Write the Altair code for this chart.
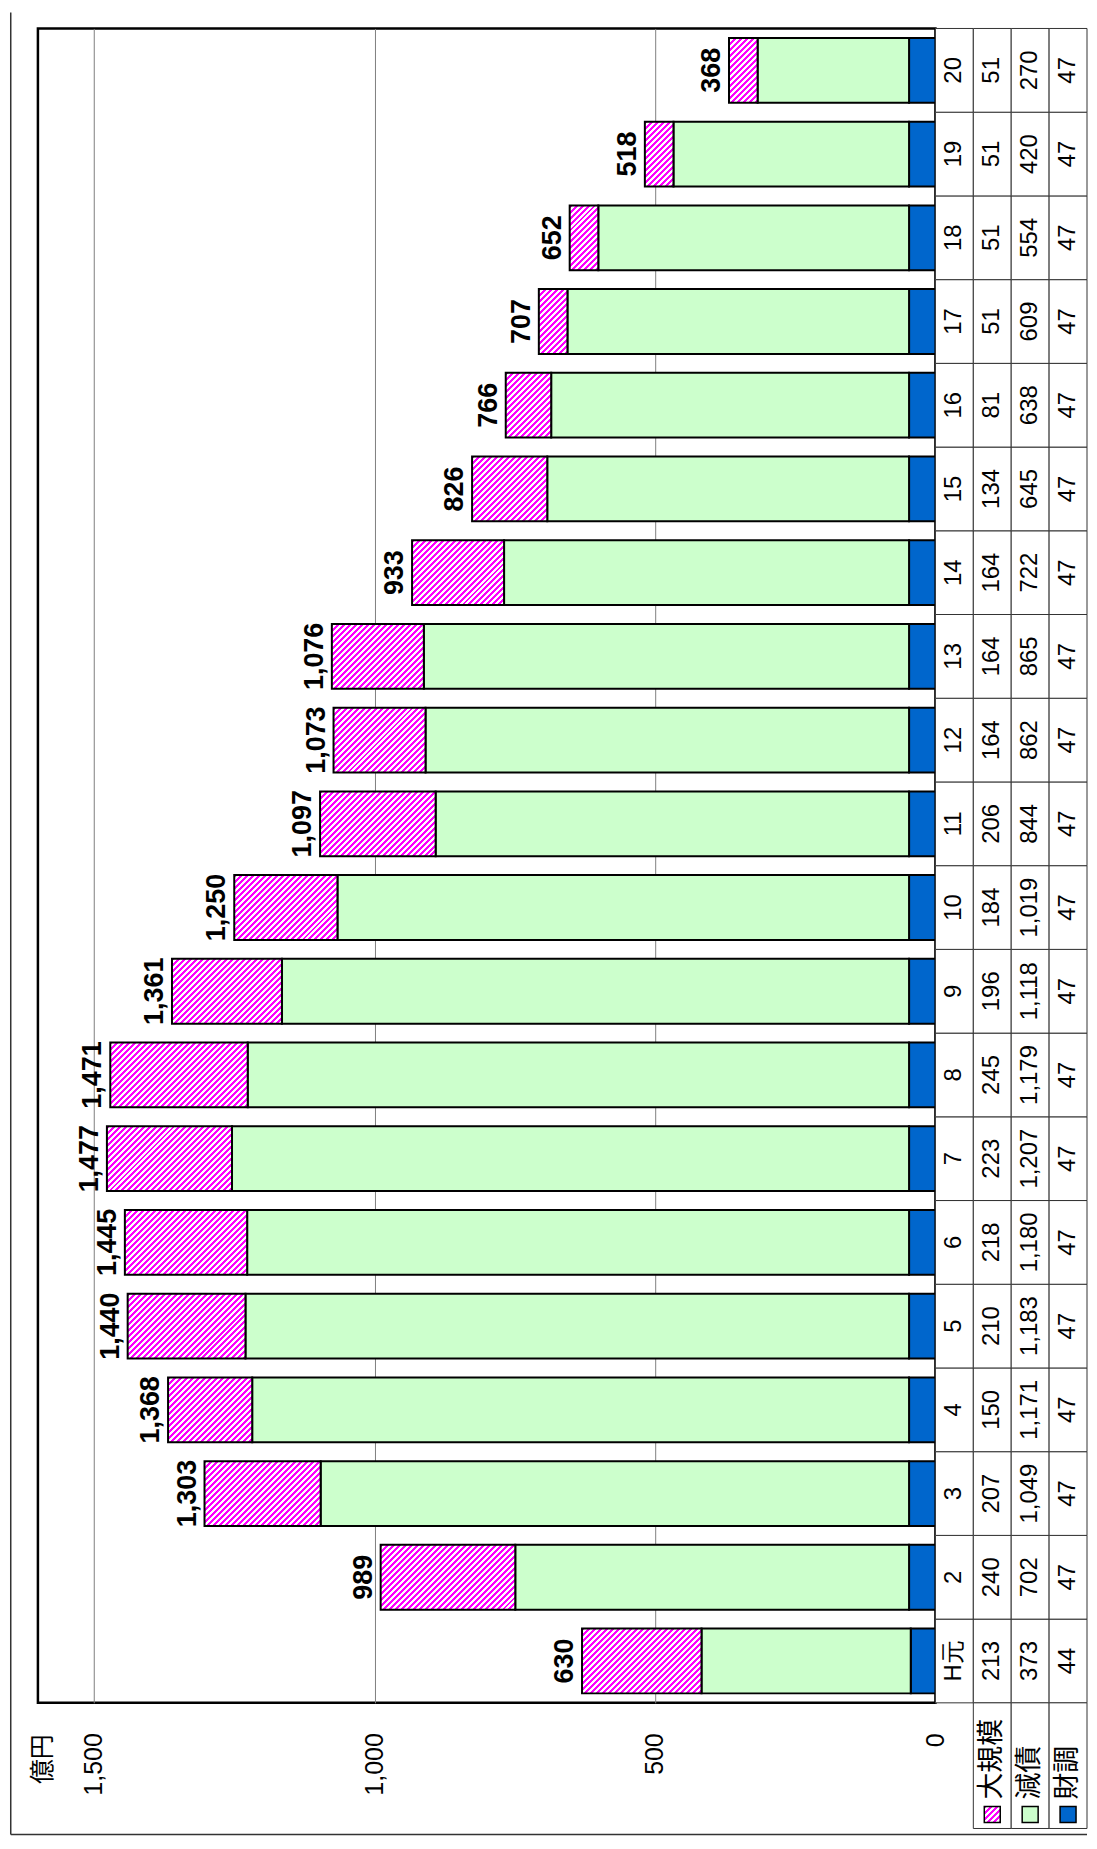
import altair as alt
import pandas as pd

# ---------------- data ----------------
categories = ["H元", "2", "3", "4", "5", "6", "7", "8", "9", "10",
              "11", "12", "13", "14", "15", "16", "17", "18", "19", "20"]
kibo = [213, 240, 207, 150, 210, 218, 223, 245, 196, 184,
        206, 164, 164, 164, 134, 81, 51, 51, 51, 51]
gensai = [373, 702, 1049, 1171, 1183, 1180, 1207, 1179, 1118, 1019,
          844, 862, 865, 722, 645, 638, 609, 554, 420, 270]
zaichou = [44, 47, 47, 47, 47, 47, 47, 47, 47, 47,
           47, 47, 47, 47, 47, 47, 47, 47, 47, 47]
series = ["大規模", "減債", "財調"]
axis_ticks = [0, 500, 1000, 1500]
unit_label = "億円"

# ---------------- layout / style ----------------
W, H, TW = 900, 1679, 152
XMAX = 1600
PAD_IN, PAD_OUT = 0.226, 0.113
LEG_H = 126
MAG, GREEN, BLUE = "#FF00FF", "#CCFFCC", "#0066CC"
REG = "Liberation Sans, Arial, sans-serif"
NARROW = "Liberation Sans Narrow, Arial Narrow, Liberation Sans, sans-serif"
CJK = "Noto Sans CJK JP, sans-serif"

step = H / (len(categories) - PAD_IN + 2 * PAD_OUT)
thick = step * (1 - PAD_IN)


def hatch(L, T, period=6.0):
    """diagonal '/' stripes of fixed pixel period inside a box of L x T px"""
    n = max((L + T) / period, 1.0)
    stops = []
    k = 0
    while k < n:
        a = k / n
        b = min((k + 0.5) / n, 1.0)
        c = min((k + 1) / n, 1.0)
        stops += [{"offset": a, "color": MAG}, {"offset": b, "color": MAG},
                  {"offset": b, "color": "#FFFFFF"}, {"offset": c, "color": "#FFFFFF"}]
        k += 1
    alpha = (L + T) / (L * L + T * T)
    return {"gradient": "linear", "x1": 0, "y1": 0,
            "x2": alpha * L, "y2": alpha * T, "stops": stops}


df = pd.DataFrame({"cat": categories, "kibo": kibo, "gensai": gensai, "zaichou": zaichou})
df["zero"] = 0
df["s1"] = df["zaichou"]
df["s2"] = df["zaichou"] + df["gensai"]
df["total"] = df["s2"] + df["kibo"]

order_top = list(reversed(categories))

xscale = alt.Scale(domain=[0, XMAX], reverse=True, nice=False, zero=True)
xaxis = alt.Axis(values=axis_ticks, format=",d", grid=True, gridColor="#808080", gridWidth=1,
                 domain=False, ticks=False, labelAngle=270, labelAlign="right",
                 labelBaseline="middle", labelPadding=30, labelFont=REG, labelFontSize=25,
                 labelColor="black", labelFlush=False, labelOverlap=False,
                 title=unit_label, titleAngle=270, titleAlign="center", titleBaseline="middle",
                 titleX=5, titleY=56, titleFont=CJK, titleFontSize=25,
                 titleFontWeight="normal", titleColor="black")


def X(field):
    return alt.X(f"{field}:Q", scale=xscale, axis=xaxis)


Y = alt.Y("cat:N", sort=order_top, axis=None,
          scale=alt.Scale(paddingInner=PAD_IN, paddingOuter=PAD_OUT))

base = alt.Chart(df)
blue = base.mark_bar(fill=BLUE, stroke="black", strokeWidth=2).encode(x=X("s1"), x2="zero", y=Y)
green = base.mark_bar(fill=GREEN, stroke="black", strokeWidth=2).encode(x=X("s2"), x2="s1", y=Y)
hatches = []
for i, c in enumerate(categories):
    hatches.append(
        base.transform_filter(alt.FieldEqualPredicate(field="cat", equal=c))
        .mark_bar(fill=hatch(kibo[i] * W / XMAX, thick), stroke="black", strokeWidth=2)
        .encode(x=X("total"), x2="s2", y=Y)
    )
labels = base.mark_text(angle=270, align="center", baseline="alphabetic", dy=-9,
                        font=NARROW, fontSize=27, fontWeight="bold", color="black").encode(
    x=X("total"), y=Y, text=alt.Text("total:Q", format=",d"))

frame_df = pd.DataFrame({"k": [0]})
left_rule = alt.Chart(frame_df).mark_rule(color="#333333", strokeWidth=1.5).encode(
    x=alt.value(-27.25), y=alt.value(-16), y2=alt.value(H + 132))
bottom_rule = alt.Chart(frame_df).mark_rule(color="#333333", strokeWidth=1.5).encode(
    x=alt.value(-27.25), x2=alt.value(W + TW), y=alt.value(H + 132))

bars = alt.layer(blue, green, *hatches, labels, left_rule, bottom_rule).properties(
    width=W, height=H, view=alt.ViewBackground(stroke="black", strokeWidth=2.5))

# ---------------- data table + legend ----------------
tcols = ["label"] + series
rows = []
for i, c in enumerate(categories):
    rows.append({"cat": c, "col": "label", "txt": c})
    rows.append({"cat": c, "col": series[0], "txt": f"{kibo[i]:,}"})
    rows.append({"cat": c, "col": series[1], "txt": f"{gensai[i]:,}"})
    rows.append({"cat": c, "col": series[2], "txt": f"{zaichou[i]:,}"})
table_df = pd.DataFrame(rows)

TX = alt.X("col:N", sort=tcols, axis=None,
           scale=alt.Scale(domain=tcols, paddingInner=0, paddingOuter=0))
TY = alt.Y("cat:N", sort=order_top, axis=None,
           scale=alt.Scale(domain=order_top, paddingInner=0, paddingOuter=0))

cells = alt.Chart(table_df).mark_rect(fill="white", stroke="#333333", strokeWidth=1).encode(x=TX, y=TY)
ttext = alt.Chart(table_df).mark_text(angle=270, align="center", baseline="middle",
                                      font=REG, fontSize=24, color="black").encode(
    x=TX, y=TY, text="txt:N")

legend_df = pd.DataFrame({"col": series})
leg_cells = alt.Chart(legend_df).mark_rect(fill="white", stroke="#333333", strokeWidth=1).encode(
    x=TX, y=alt.value(H), y2=alt.value(H + LEG_H))
leg_text = alt.Chart(legend_df).mark_text(angle=270, align="left", baseline="middle",
                                          font=CJK, fontSize=27, color="black").encode(
    x=TX, y=alt.value(H + 97), text="col:N")
leg_sq = alt.Chart(legend_df).transform_filter(
    alt.FieldOneOfPredicate(field="col", oneOf=series[1:])
).mark_square(size=256, stroke="black", strokeWidth=1.5, opacity=1).encode(
    x=TX, y=alt.value(H + 112),
    fill=alt.Fill("col:N", scale=alt.Scale(domain=series[1:], range=[GREEN, BLUE]), legend=None))
leg_sq_h = alt.Chart(legend_df).transform_filter(
    alt.FieldEqualPredicate(field="col", equal=series[0])
).mark_square(size=256, fill=hatch(16, 16), stroke="black", strokeWidth=1.5, opacity=1).encode(
    x=TX, y=alt.value(H + 112))

table = alt.layer(cells, ttext, leg_cells, leg_text, leg_sq, leg_sq_h).properties(width=TW, height=H)

chart = alt.hconcat(bars, table, spacing=0, bounds="flush").resolve_scale(
    x="independent", y="independent").properties(padding=0).configure_view(stroke="transparent")

chart.save("out.html", embed_options={"renderer": "svg", "actions": False})
